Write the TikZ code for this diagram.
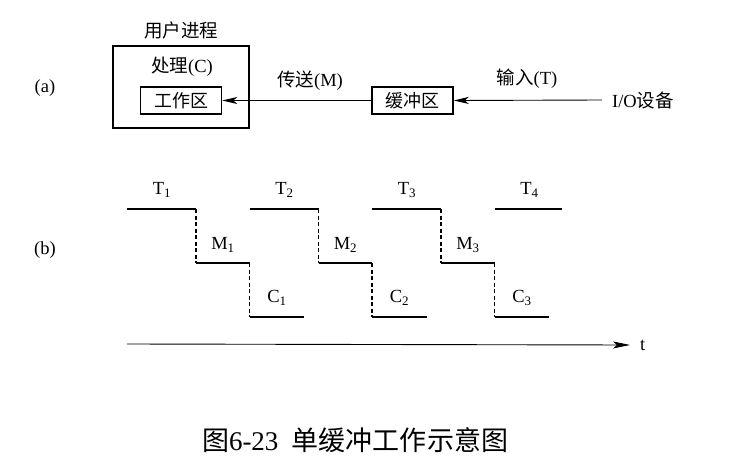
\documentclass[tikz,border=0pt]{standalone}
\usepackage{fontspec}
\setmainfont{Liberation Serif}
\newfontfamily\cjk{Noto Sans CJK SC}
\usetikzlibrary{arrows.meta}
\begin{document}
\begin{tikzpicture}[x=1pt,y=-1pt,
  lbl/.style={inner sep=0pt, font=\fontsize{18.5}{21}\selectfont},
  boxouter/.style={draw, line width=1.8pt, inner sep=0pt, minimum width=136pt, minimum height=82pt},
  boxinner/.style={draw, line width=1.5pt, inner sep=0pt, minimum width=81pt, minimum height=27pt, font=\fontsize{18}{21}\selectfont},
  arr/.style={line width=0.9pt, -{Stealth[length=15pt,width=7pt,inset=4pt]}},
  tl/.style={line width=1.8pt},
  dl/.style={line width=1.6pt, dash pattern=on 4pt off 2.5pt}]
\useasboundingbox (0,0) rectangle (735,468);
% ---------- (a)
\node[lbl] (la) at (45,88) {(a)};
\node[lbl] (proc) at (181,30) {\cjk 用户进程};
\node[boxouter] (outer) at (181,87) {};
\node[lbl] (chuli) at (182,67) {{\cjk 处理}(C)};
\node[boxinner] (work) at (181,100.5) {\cjk 工作区};
\node[boxinner] (buf) at (412.5,100.5) {\cjk 缓冲区};
\node[lbl] (io) at (643,100) {I/O{\cjk 设备}};
\node[lbl] (lm) at (310,81) {{\cjk 传送}(M)};
\node[lbl] (lt) at (527,79) {{\cjk 输入}(T)};
\draw[arr] (buf.west) -- (work.east);
\draw[arr] ([xshift=-10pt]io.west) -- (buf.east);
% ---------- (b)
\node[lbl] (lb) at (45,250) {(b)};
\foreach \i/\n in {0/1,1/2,2/3}{
  \pgfmathsetmacro{\xs}{127+122.5*\i}
  \coordinate (t\n a) at (\xs,209);
  \coordinate (t\n b) at (\xs+69,209);
  \coordinate (m\n a) at (\xs+69,263);
  \coordinate (m\n b) at (\xs+122.5,263);
  \coordinate (c\n a) at (\xs+122.5,317);
  \coordinate (c\n b) at (\xs+177,317);
  \draw[tl] (t\n a) -- (t\n b);
  \draw[dl] (t\n b) -- (m\n a);
  \draw[tl] (m\n a) -- (m\n b);
  \draw[dl] (m\n b) -- (c\n a);
  \draw[tl] (c\n a) -- (c\n b);
  \node[lbl] (T\n) at (\xs+35,190) {T\textsubscript{\n}};
  \node[lbl] (M\n) at (\xs+96,245) {M\textsubscript{\n}};
  \node[lbl] (C\n) at (\xs+150,298) {C\textsubscript{\n}};
}
\coordinate (t4a) at (494.5,209);
\coordinate (t4b) at (562,209);
\draw[tl] (t4a) -- (t4b);
\node[lbl] (T4) at (529.5,190) {T\textsubscript{4}};
\coordinate (ax0) at (127,344);
\node[lbl, anchor=west] (tt) at (640,345) {t};
\draw[line width=0.9pt, -{Stealth[length=17pt,width=7pt,inset=4pt]}] (ax0) -- ([xshift=-10pt]tt.west);
% ---------- caption
\node[inner sep=0pt, font=\fontsize{27}{31}\selectfont] (cap) at (355,440) {{\cjk 图}6-23\hspace{0.5em}{\cjk 单缓冲工作示意图}};
\end{tikzpicture}
\end{document}
